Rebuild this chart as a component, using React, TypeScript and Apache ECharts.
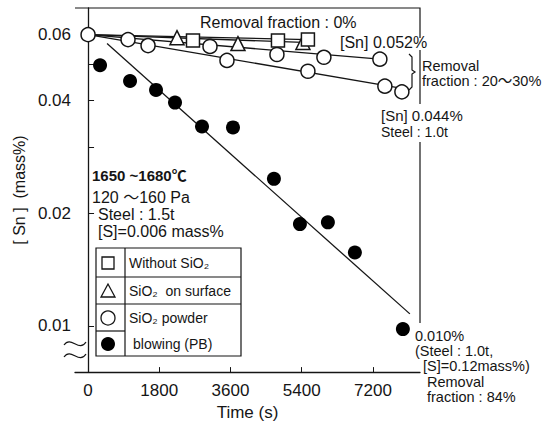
import React, { useEffect, useRef } from "react";
import * as echarts from "echarts";

// ---- data ----
const timeTicks = [0, 1800, 3600, 5400, 7200];
const snTicks = [0.01, 0.02, 0.04, 0.06];
const snTickLabels = ["0.01", "0.02", "0.04", "0.06"];
const snTickMarks = [0.01, 0.02, 0.03, 0.04, 0.05, 0.06];

// PB: SiO2 powder blowing (filled circles)
const pbTime = [303, 1061, 1718, 2198, 2880, 3663, 4698, 5355, 6062, 6744, 7957];
const pbSn = [0.0497, 0.0451, 0.0427, 0.0395, 0.0341, 0.0339, 0.0247, 0.0187, 0.0189, 0.0157, 0.0098];

// SiO2 powder (open circles)
const powderTime = [0, 1010, 1516, 3082, 3511, 4774, 5961, 7376, 5557, 7502, 7932];
const powderSn = [0.06, 0.0582, 0.0561, 0.0558, 0.0512, 0.0531, 0.0522, 0.0516, 0.0479, 0.0437, 0.0422];

// Without SiO2 (squares)
const withoutTime = [2652, 4800, 5557];
const withoutSn = [0.0579, 0.0579, 0.0582];

// SiO2 on surface (triangles)
const surfaceTime = [2248, 3789, 5431];
const surfaceSn = [0.0589, 0.0568, 0.0572];

// trend lines
const withoutLineTime = [0, 5557];
const withoutLineSn = [0.06, 0.0582];
const surfaceLineTime = [0, 5431];
const surfaceLineSn = [0.06, 0.0572];
const powderHighLineTime = [0, 7376];
const powderHighLineSn = [0.06, 0.0516];
const powderLowLineTime = [0, 7900];
const powderLowLineSn = [0.06, 0.0432];
const pbFitTime = [480, 8134];
const pbFitSn = [0.0568, 0.01076];

// axis range
const timeMin = -330;
const timeMax = 8390;
const snMin = 0.00752;
const snMax = 0.0707;

const FONT = "'Liberation Sans', Arial, 'Noto Sans CJK JP', sans-serif";
const INK = "#151515";

const pts = (ts: number[], vs: number[]) => ts.map((t, i) => [t, Math.log10(vs[i])]);

const txt = (text: string, x: number, y: number, fontSize: number, extra: any = {}) => ({
  type: "text",
  x,
  y,
  z: 10,
  style: {
    text,
    fontSize,
    fontFamily: FONT,
    fill: INK,
    align: "left",
    verticalAlign: "middle",
    ...extra,
  },
});

const lineSeries = (ts: number[], vs: number[]) => ({
  type: "line",
  data: pts(ts, vs),
  symbol: "none",
  silent: true,
  z: 1,
  lineStyle: { color: INK, width: 1.3 },
});

export default function App() {
  const ref = useRef<HTMLDivElement>(null);
  useEffect(() => {
    if (!ref.current) return;
    const chart = echarts.init(ref.current, null, { renderer: "svg" });
    const segs = (points: number[][]) => ({
      type: "polyline",
      z: 10,
      shape: { points },
      style: { stroke: INK, lineWidth: 1.2, fill: "none" },
    });
    const option: any = {
      animation: false,
      backgroundColor: "#ffffff",
      grid: { left: 75, top: 8, width: 345, height: 369 },
      xAxis: {
        type: "value",
        min: timeMin,
        max: timeMax,
        name: "Time (s)",
        nameLocation: "middle",
        nameGap: 31,
        nameTextStyle: { fontSize: 17, fontFamily: FONT, color: INK },
        axisLine: { show: true, lineStyle: { color: INK, width: 1.3 } },
        axisTick: { show: true, inside: true, length: 5, customValues: timeTicks, lineStyle: { color: INK } },
        axisLabel: {
          show: true,
          customValues: timeTicks,
          formatter: (v: number) => String(v),
          fontSize: 17,
          fontFamily: FONT,
          color: INK,
          margin: 10,
        },
        splitLine: { show: false },
      },
      yAxis: {
        type: "value",
        min: Math.log10(snMin),
        max: Math.log10(snMax),
        name: "[ Sn ]  (mass%)",
        nameLocation: "middle",
        nameGap: 44,
        nameRotate: 90,
        nameTextStyle: { fontSize: 16, fontFamily: FONT, color: INK },
        axisLine: { show: true, lineStyle: { color: INK, width: 1.3 } },
        axisTick: {
          show: true,
          inside: true,
          length: 6,
          customValues: snTickMarks.map((v) => Math.log10(v)),
          lineStyle: { color: INK },
        },
        axisLabel: {
          show: true,
          customValues: snTicks.map((v) => Math.log10(v)),
          formatter: (v: number) => {
            let best = 0;
            snTicks.forEach((s, i) => {
              if (Math.abs(Math.log10(s) - v) < Math.abs(Math.log10(snTicks[best]) - v)) best = i;
            });
            return snTickLabels[best];
          },
          fontSize: 17,
          fontFamily: FONT,
          color: INK,
          margin: 4,
        },
        splitLine: { show: false },
      },
      series: [
        lineSeries(withoutLineTime, withoutLineSn),
        lineSeries(surfaceLineTime, surfaceLineSn),
        lineSeries(powderHighLineTime, powderHighLineSn),
        lineSeries(powderLowLineTime, powderLowLineSn),
        lineSeries(pbFitTime, pbFitSn),
        {
          type: "scatter",
          data: pts(pbTime, pbSn),
          symbol: "circle",
          symbolSize: 14,
          z: 3,
          itemStyle: { color: "#000", borderColor: "#000", borderWidth: 0, opacity: 1 },
        },
        {
          type: "scatter",
          data: pts(powderTime, powderSn),
          symbol: "circle",
          symbolSize: 14,
          z: 3,
          itemStyle: { color: "#fff", borderColor: INK, borderWidth: 1.5, opacity: 1 },
        },
        {
          type: "scatter",
          data: pts(surfaceTime, surfaceSn),
          symbol: "triangle",
          symbolSize: 14,
          z: 3,
          itemStyle: { color: "#fff", borderColor: INK, borderWidth: 1.5, opacity: 1 },
        },
        {
          type: "scatter",
          data: pts(withoutTime, withoutSn),
          symbol: "rect",
          symbolSize: 13,
          z: 3,
          itemStyle: { color: "#fff", borderColor: INK, borderWidth: 1.5, opacity: 1 },
        },
      ],
      graphic: [
        // frame top and right side (broken by labels)
        segs([[75, 8], [420, 8], [420, 38]]),
        segs([[420, 50], [420, 104]]),
        segs([[420, 142], [420, 323]]),
        // bracket
        segs([[409, 54], [412, 57], [412, 70], [415, 72], [412, 74], [412, 87], [409, 90]]),
        // axis break
        { type: "rect", z: 20, shape: { x: 72, y: 345, width: 7, height: 8 }, style: { fill: "#fff" } },
        {
          type: "bezierCurve",
          z: 21,
          shape: { x1: 64, y1: 345, cpx1: 71, cpy1: 335, cpx2: 79, cpy2: 353, x2: 86, y2: 342 },
          style: { stroke: INK, lineWidth: 1.2, fill: "none" },
        },
        {
          type: "bezierCurve",
          z: 21,
          shape: { x1: 64, y1: 357, cpx1: 71, cpy1: 347, cpx2: 79, cpy2: 365, x2: 86, y2: 354 },
          style: { stroke: INK, lineWidth: 1.2, fill: "none" },
        },
        // annotations
        txt("Removal fraction : 0%", 200, 22, 16),
        txt("[Sn] 0.052%", 340, 42, 16),
        txt("Removal\nfraction : 20～30%", 422, 73, 14.5, { lineHeight: 15 }),
        txt("[Sn] 0.044%", 381, 115, 15),
        txt("Steel : 1.0t", 381, 132, 14),
        txt("1650 ~1680℃", 92, 175, 15, { fontWeight: "bold" }),
        txt("120 ～160 Pa", 92, 197, 16),
        txt("Steel : 1.5t", 98, 214, 16),
        txt("[S]=0.006 mass%", 98, 231, 16),
        txt("0.010%\n(Steel : 1.0t,\n  [S]=0.12mass%)", 415, 351, 14.5, { lineHeight: 15 }),
        txt("Removal\nfraction : 84%", 427, 389, 14.5, { lineHeight: 15 }),
        // legend table
        {
          type: "rect",
          z: 10,
          shape: { x: 96, y: 248, width: 145, height: 108 },
          style: { fill: "#fff", stroke: INK, lineWidth: 1.2 },
        },
        segs([[125, 248], [125, 356]]),
        segs([[96, 277], [241, 277]]),
        segs([[96, 304], [241, 304]]),
        segs([[96, 331], [125, 331]]),
        {
          type: "rect",
          z: 11,
          shape: { x: 102, y: 257, width: 12, height: 12 },
          style: { fill: "#fff", stroke: INK, lineWidth: 1.3 },
        },
        {
          type: "polygon",
          z: 11,
          shape: { points: [[108, 284], [101, 297], [115, 297]] },
          style: { fill: "#fff", stroke: INK, lineWidth: 1.3 },
        },
        {
          type: "circle",
          z: 11,
          shape: { cx: 108, cy: 318, r: 7 },
          style: { fill: "#fff", stroke: INK, lineWidth: 1.3 },
        },
        {
          type: "circle",
          z: 11,
          shape: { cx: 108, cy: 344, r: 7 },
          style: { fill: "#000" },
        },
        txt("Without SiO₂", 129, 263, 14),
        txt("SiO₂  on surface", 129, 291, 14),
        txt("SiO₂ powder", 129, 318, 14),
        txt("blowing (PB)", 133, 344, 14),
      ],
    };
    chart.setOption(option);
    return () => chart.dispose();
  }, []);
  return (
    <div
      ref={ref}
      style={{ position: "absolute", left: 0, top: 0, width: 547, height: 426, background: "#fff" }}
    />
  );
}
